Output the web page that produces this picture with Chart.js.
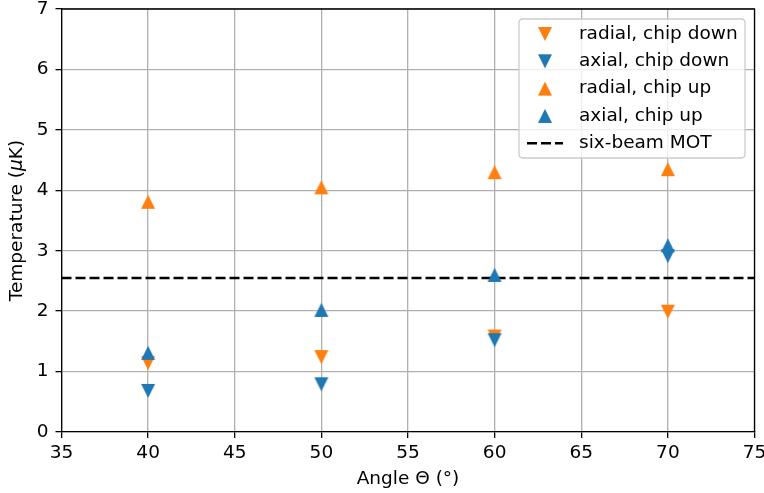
<!DOCTYPE html>
<html>
<head>
<meta charset="utf-8">
<script src="https://cdn.jsdelivr.net/npm/chart.js@4.4.0/dist/chart.umd.min.js"></script>
<style>
  html, body { margin: 0; padding: 0; background: #fff; }
  #wrap { width: 764px; height: 493px; position: relative; }
</style>
</head>
<body>
<div id="wrap"><canvas id="c" width="764" height="493"></canvas></div>
<script>
// ---- Data ----
const angles = [40, 50, 60, 70];
const radialChipDown = [1.14, 1.24, 1.58, 1.99];
const axialChipDown  = [0.68, 0.79, 1.52, 2.91];
const radialChipUp   = [3.81, 4.05, 4.30, 4.35];
const axialChipUp    = [1.31, 2.02, 2.60, 3.09];
const sixBeamMOT = 2.55;
const xTickValues = [35, 40, 45, 50, 55, 60, 65, 70, 75];
const yTickValues = [0, 1, 2, 3, 4, 5, 6, 7];
const seriesLabels = ['radial, chip down', 'axial, chip down', 'radial, chip up', 'axial, chip up', 'six-beam MOT'];
const xTitle = 'Angle Θ (°)';

// ---- Styles ----
const ORANGE = '#ff7f0e';
const BLUE = '#1f77b4';
const FONT = 'DejaVu Sans';
const FS = 18.5;

function makeTriangle(color, up) {
  const cv = document.createElement('canvas');
  cv.width = 16; cv.height = 16;
  const g = cv.getContext('2d');
  g.fillStyle = color;
  g.beginPath();
  if (up) { g.moveTo(8, 1); g.lineTo(15, 15); g.lineTo(1, 15); }
  else    { g.moveTo(1, 1); g.lineTo(15, 1); g.lineTo(8, 15); }
  g.closePath();
  g.fill();
  return cv;
}
const mk = {
  orangeDown: makeTriangle(ORANGE, false),
  blueDown: makeTriangle(BLUE, false),
  orangeUp: makeTriangle(ORANGE, true),
  blueUp: makeTriangle(BLUE, true)
};

function pts(ys) { return angles.map((a, i) => ({x: a, y: ys[i]})); }

Chart.defaults.font.family = FONT;
Chart.defaults.font.size = FS;
Chart.defaults.color = '#000';

const frameAndLegend = {
  id: 'frameAndLegend',
  afterDraw(chart) {
    const ctx = chart.ctx;
    const a = chart.chartArea;
    ctx.save();
    // top & right spines
    ctx.strokeStyle = '#000';
    ctx.lineWidth = 1.3;
    ctx.beginPath();
    ctx.moveTo(a.left, a.top); ctx.lineTo(a.right, a.top); ctx.lineTo(a.right, a.bottom);
    ctx.stroke();

    // y-axis title with italic mu
    ctx.save();
    ctx.translate(17, (a.top + a.bottom) / 2);
    ctx.rotate(-Math.PI / 2);
    ctx.fillStyle = '#000';
    ctx.textBaseline = 'middle';
    const parts = [
      ['Temperature (', FS + 'px "' + FONT + '"'],
      ['μ', 'italic ' + FS + 'px "' + FONT + '"'],
      ['K)', FS + 'px "' + FONT + '"']
    ];
    let total = 0;
    parts.forEach(p => { ctx.font = p[1]; total += ctx.measureText(p[0]).width; });
    let x = -total / 2;
    ctx.textAlign = 'left';
    parts.forEach(p => { ctx.font = p[1]; ctx.fillText(p[0], x, 0); x += ctx.measureText(p[0]).width; });
    ctx.restore();

    // legend box
    const bx = 519, by = 19, bw = 226, bh = 139, r = 4;
    ctx.beginPath();
    ctx.moveTo(bx + r, by);
    ctx.lineTo(bx + bw - r, by); ctx.quadraticCurveTo(bx + bw, by, bx + bw, by + r);
    ctx.lineTo(bx + bw, by + bh - r); ctx.quadraticCurveTo(bx + bw, by + bh, bx + bw - r, by + bh);
    ctx.lineTo(bx + r, by + bh); ctx.quadraticCurveTo(bx, by + bh, bx, by + bh - r);
    ctx.lineTo(bx, by + r); ctx.quadraticCurveTo(bx, by, bx + r, by);
    ctx.closePath();
    ctx.fillStyle = 'rgba(255,255,255,0.8)';
    ctx.fill();
    ctx.strokeStyle = '#cccccc';
    ctx.lineWidth = 1.3;
    ctx.stroke();

    const legendItems = [
      {label: seriesLabels[0], img: mk.orangeDown},
      {label: seriesLabels[1], img: mk.blueDown},
      {label: seriesLabels[2], img: mk.orangeUp},
      {label: seriesLabels[3], img: mk.blueUp},
      {label: seriesLabels[4], dash: true}
    ];
    ctx.font = FS + 'px "' + FONT + '"';
    ctx.textBaseline = 'middle';
    ctx.textAlign = 'left';
    ctx.fillStyle = '#000';
    legendItems.forEach((it, i) => {
      const cy = 34 + i * 27.3;
      if (it.dash) {
        ctx.save();
        ctx.strokeStyle = '#000';
        ctx.lineWidth = 2.5;
        ctx.setLineDash([10, 4]);
        ctx.beginPath();
        ctx.moveTo(527, cy); ctx.lineTo(563, cy);
        ctx.stroke();
        ctx.restore();
      } else {
        ctx.drawImage(it.img, 545 - 8, cy - 8);
      }
      ctx.fillText(it.label, 579, cy);
    });
    ctx.restore();
  }
};

new Chart(document.getElementById('c'), {
  type: 'scatter',
  data: {
    datasets: [
      {label: seriesLabels[0], data: pts(radialChipDown), pointStyle: mk.orangeDown, backgroundColor: ORANGE, borderColor: ORANGE, order: 4},
      {label: seriesLabels[1], data: pts(axialChipDown), pointStyle: mk.blueDown, backgroundColor: BLUE, borderColor: BLUE, order: 3},
      {label: seriesLabels[2], data: pts(radialChipUp), pointStyle: mk.orangeUp, backgroundColor: ORANGE, borderColor: ORANGE, order: 2},
      {label: seriesLabels[3], data: pts(axialChipUp), pointStyle: mk.blueUp, backgroundColor: BLUE, borderColor: BLUE, order: 1},
      {label: seriesLabels[4], type: 'line', showLine: true,
       data: [{x: xTickValues[0], y: sixBeamMOT}, {x: xTickValues[xTickValues.length - 1], y: sixBeamMOT}],
       borderColor: '#000', borderWidth: 2.5, borderDash: [10, 4], pointRadius: 0, fill: false, order: 5}
    ]
  },
  options: {
    responsive: false,
    animation: false,
    events: [],
    layout: {padding: {top: 9, right: 9.5, left: 0, bottom: 0}},
    plugins: {legend: {display: false}, tooltip: {enabled: false}},
    scales: {
      x: {
        type: 'linear', min: 35, max: 75,
        afterBuildTicks: s => { s.ticks = xTickValues.map(v => ({value: v})); },
        afterFit: s => { s.height = 61; s.paddingLeft = 0; s.paddingRight = 0; },
        grid: {color: '#b0b0b0', lineWidth: 1.3, tickColor: '#000', tickLength: 6, tickWidth: 1.3},
        border: {color: '#000', width: 1.3},
        ticks: {padding: 4, maxRotation: 0, autoSkip: false, font: {size: FS}},
        title: {display: true, text: xTitle, font: {size: FS}, padding: {top: 0, bottom: 3}}
      },
      y: {
        type: 'linear', min: 0, max: 7,
        afterBuildTicks: s => { s.ticks = yTickValues.map(v => ({value: v})); },
        afterFit: s => { s.width = 61.5; s.paddingTop = 0; s.paddingBottom = 0; },
        grid: {color: '#b0b0b0', lineWidth: 1.3, tickColor: '#000', tickLength: 6, tickWidth: 1.3},
        border: {color: '#000', width: 1.3},
        ticks: {padding: 7, autoSkip: false, font: {size: FS}},
        title: {display: false}
      }
    }
  },
  plugins: [frameAndLegend]
});
</script>
</body>
</html>
